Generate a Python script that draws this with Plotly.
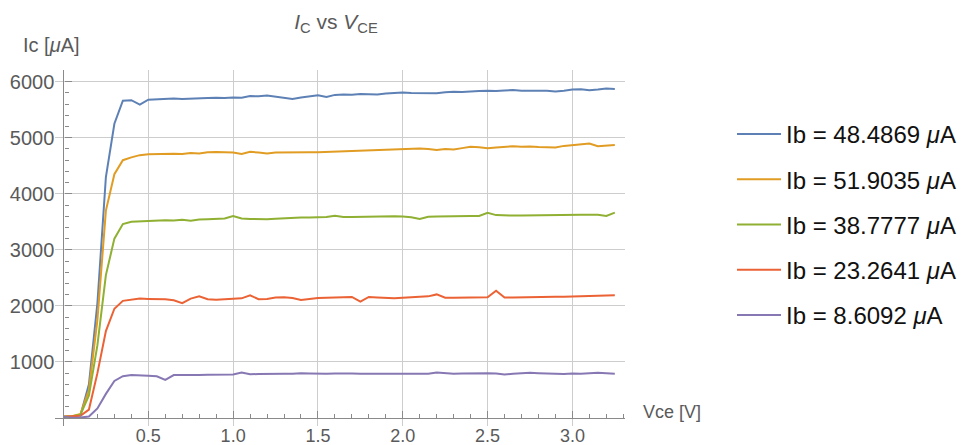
import plotly.graph_objects as go

# ---- data ----
vce = [0.00, 0.05, 0.10, 0.15, 0.20, 0.25, 0.30, 0.35, 0.40, 0.45,
       0.50, 0.55, 0.60, 0.65, 0.70, 0.75, 0.80, 0.85, 0.90, 0.95,
       1.00, 1.05, 1.10, 1.15, 1.20, 1.25, 1.30, 1.35, 1.40, 1.45,
       1.50, 1.55, 1.60, 1.65, 1.70, 1.75, 1.80, 1.85, 1.90, 1.95,
       2.00, 2.05, 2.10, 2.15, 2.20, 2.25, 2.30, 2.35, 2.40, 2.45,
       2.50, 2.55, 2.60, 2.65, 2.70, 2.75, 2.80, 2.85, 2.90, 2.95,
       3.00, 3.05, 3.10, 3.15, 3.20, 3.25]

ic_ib_48 = [20, 25, 50, 600, 2050, 4300, 5250, 5660, 5670, 5590,
            5680, 5690, 5695, 5700, 5690, 5700, 5705, 5710, 5715, 5710,
            5720, 5715, 5745, 5740, 5752, 5730, 5700, 5690, 5720, 5745,
            5760, 5728, 5765, 5770, 5768, 5780, 5775, 5770, 5790, 5805,
            5808, 5800, 5800, 5795, 5795, 5810, 5820, 5815, 5830, 5835,
            5840, 5835, 5845, 5852, 5840, 5845, 5838, 5840, 5825, 5840,
            5862, 5865, 5848, 5860, 5878, 5870]

ic_ib_51 = [20, 30, 70, 500, 1750, 3700, 4350, 4600, 4650, 4690,
            4705, 4710, 4705, 4715, 4710, 4730, 4720, 4740, 4745, 4740,
            4735, 4712, 4750, 4735, 4720, 4735, 4740, 4745, 4745, 4742,
            4740, 4745, 4755, 4765, 4770, 4775, 4780, 4780, 4790, 4795,
            4795, 4800, 4810, 4800, 4780, 4800, 4790, 4815, 4840, 4830,
            4815, 4825, 4835, 4850, 4840, 4845, 4835, 4830, 4825, 4855,
            4870, 4875, 4898, 4850, 4865, 4870]

ic_ib_38 = [20, 30, 60, 400, 1300, 2550, 3200, 3460, 3500, 3510,
            3515, 3520, 3530, 3525, 3535, 3520, 3540, 3545, 3550, 3560,
            3605, 3560, 3550, 3545, 3545, 3555, 3565, 3570, 3575, 3578,
            3580, 3585, 3610, 3585, 3585, 3590, 3590, 3595, 3595, 3600,
            3595, 3580, 3550, 3590, 3595, 3600, 3600, 3600, 3605, 3605,
            3660, 3620, 3610, 3612, 3615, 3618, 3620, 3620, 3625, 3625,
            3630, 3628, 3625, 3625, 3605, 3665]

ic_ib_23 = [20, 25, 40, 150, 800, 1550, 1950, 2090, 2110, 2130,
            2125, 2120, 2120, 2100, 2050, 2130, 2170, 2120, 2110, 2120,
            2125, 2135, 2190, 2120, 2125, 2150, 2155, 2140, 2105, 2125,
            2140, 2145, 2150, 2150, 2160, 2075, 2160, 2150, 2140, 2135,
            2145, 2150, 2155, 2170, 2205, 2145, 2145, 2150, 2155, 2155,
            2155, 2270, 2150, 2150, 2155, 2155, 2160, 2160, 2165, 2165,
            2170, 2170, 2175, 2180, 2185, 2190]

ic_ib_8 = [20, 5, 10, 25, 170, 430, 660, 745, 765, 765,
           755, 745, 680, 765, 770, 770, 768, 770, 772, 770,
           775, 810, 780, 785, 790, 795, 790, 790, 800, 795,
           790, 790, 795, 800, 795, 790, 790, 785, 790, 790,
           785, 790, 795, 790, 810, 800, 790, 795, 800, 800,
           800, 795, 775, 790, 800, 805, 800, 800, 790, 785,
           795, 790, 800, 805, 800, 790]

series = [ic_ib_48, ic_ib_51, ic_ib_38, ic_ib_23, ic_ib_8]
series_names = ["Ib = 48.4869 <i>μ</i>A", "Ib = 51.9035 <i>μ</i>A",
                "Ib = 38.7777 <i>μ</i>A", "Ib = 23.2641 <i>μ</i>A",
                "Ib = 8.6092 <i>μ</i>A"]
colors = ["#5E81B5", "#E19C24", "#8FB032", "#EB6235", "#8778B3"]

x_tickvals = [0.5, 1.0, 1.5, 2.0, 2.5, 3.0]
x_ticktext = ["0.5", "1.0", "1.5", "2.0", "2.5", "3.0"]
y_tickvals = [1000, 2000, 3000, 4000, 5000, 6000]
y_ticktext = ["1000", "2000", "3000", "4000", "5000", "6000"]

x_range = [-0.05, 3.31]
y_range = [-143, 6209]

FONT = "Liberation Sans, Arial, sans-serif"
GRAY_TXT = "#5a5a5a"
AXIS_COL = "#8a8a8a"
GRID_COL = "#cdcdcd"

# the page body has an 8px default margin: size the figure to the visible part
OFF = 8
W, H = 974 - OFF, 445 - OFF
# plot area in page pixels
P_LEFT, P_RIGHT, P_TOP, P_BOTTOM = 55, 625.5, 70, 426
M_L, M_R = P_LEFT - OFF, W - (P_RIGHT - OFF)
M_T, M_B = P_TOP - OFF, H - (P_BOTTOM - OFF)
PW = W - M_L - M_R
PH = H - M_T - M_B

fig = go.Figure()
for ys, name, col in zip(series, series_names, colors):
    fig.add_trace(go.Scatter(x=vce, y=ys, mode="lines", name=name,
                             legendgroup=name,
                             line=dict(color=col, width=2)))

x_pos = (0 - y_range[0]) / (y_range[1] - y_range[0])
y_pos = (0 - x_range[0]) / (x_range[1] - x_range[0])

fig.update_layout(
    width=W, height=H,
    margin=dict(l=M_L, r=M_R, t=M_T, b=M_B, autoexpand=False),
    paper_bgcolor="white", plot_bgcolor="white",
    font=dict(family=FONT, color=GRAY_TXT),
    title=dict(text="<i>I</i><sub>C</sub> vs <i>V</i><sub>CE</sub>",
               x=(336 - OFF) / W, xref="container", xanchor="center",
               y=1 - 6 / H, yref="container", yanchor="top",
               pad=dict(t=0, b=0, l=0, r=0),
               font=dict(size=21, color=GRAY_TXT, family=FONT)),
    xaxis=dict(range=x_range, anchor="free", position=x_pos,
               tickmode="array", tickvals=x_tickvals, ticktext=x_ticktext,
               showgrid=True, gridcolor=GRID_COL, gridwidth=1.3,
               zeroline=False, showline=True, linecolor=AXIS_COL, linewidth=1.3,
               ticks="inside", ticklen=7, tickcolor=AXIS_COL, tickwidth=1.3,
               ticklabelstandoff=1,
               tickfont=dict(size=18, color=GRAY_TXT, family=FONT),
               minor=dict(tickmode="linear", tick0=0, dtick=0.1, ticks="inside",
                          ticklen=4, tickcolor=AXIS_COL, tickwidth=1.2,
                          showgrid=False)),
    yaxis=dict(range=y_range, anchor="free", position=y_pos,
               tickmode="array", tickvals=y_tickvals, ticktext=y_ticktext,
               showgrid=True, gridcolor=GRID_COL, gridwidth=1.3,
               zeroline=False, showline=True, linecolor=AXIS_COL, linewidth=1.3,
               ticks="inside", ticklen=7, tickcolor=AXIS_COL, tickwidth=1.3,
               ticklabelstandoff=5,
               tickfont=dict(size=20, color=GRAY_TXT, family=FONT),
               minor=dict(tickmode="linear", tick0=0, dtick=200, ticks="inside",
                          ticklen=4, tickcolor=AXIS_COL, tickwidth=1.2,
                          showgrid=False)),
    legend=dict(x=(732 - OFF) / W, xref="container", xanchor="left",
                y=1 - (112 - OFF) / H, yref="container", yanchor="top",
                font=dict(size=24, color="#111111", family=FONT),
                itemwidth=44, maxheight=420,
                tracegroupgap=11, bgcolor="rgba(0,0,0,0)"),
    showlegend=True,
)

fig.add_annotation(text="Ic [<i>μ</i>A]", xref="paper", yref="paper",
                   x=(21 - P_LEFT) / PW, y=(P_BOTTOM - 45) / PH,
                   xanchor="left", yanchor="middle", showarrow=False,
                   font=dict(size=20, color=GRAY_TXT, family=FONT))
fig.add_annotation(text="Vce [V]", xref="paper", yref="paper",
                   x=(642 - P_LEFT) / PW, y=(P_BOTTOM - 412) / PH,
                   xanchor="left", yanchor="middle", showarrow=False,
                   font=dict(size=18, color=GRAY_TXT, family=FONT))

fig.write_html("out.html")
